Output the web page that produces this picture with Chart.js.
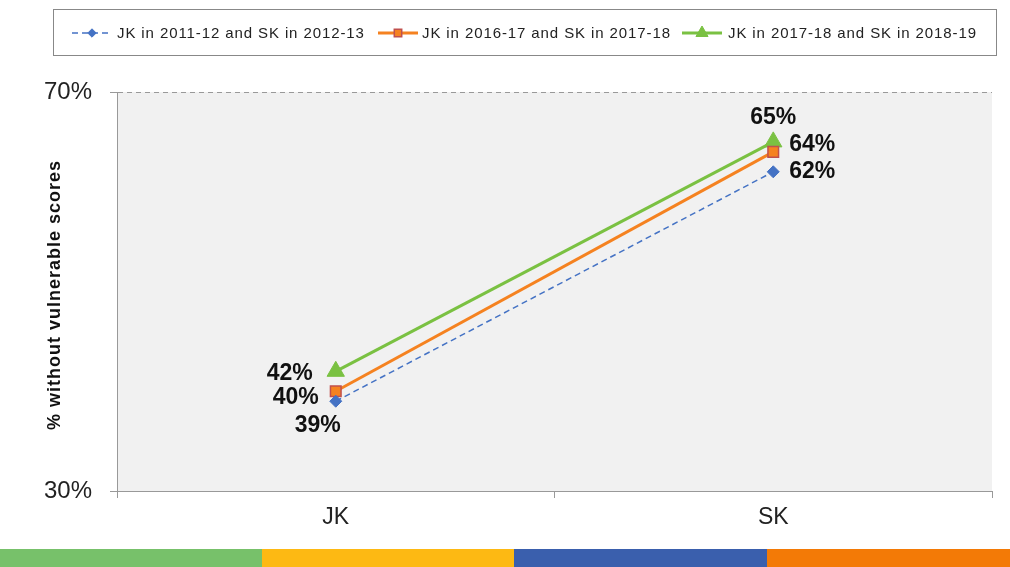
<!DOCTYPE html>
<html>
<head>
<meta charset="utf-8">
<script src="https://cdn.jsdelivr.net/npm/chart.js@4"></script>
<style>
  html, body { margin: 0; padding: 0; background: #fff; }
  #wrap { position: relative; width: 1010px; height: 567px; overflow: hidden; }
  #wrap canvas { position: absolute; left: 0; top: 0; }
  .strip { position: absolute; top: 549px; height: 18px; }
</style>
</head>
<body>
<div id="wrap">
  <canvas id="mainChart" width="1010" height="548"></canvas>
  <div class="strip" style="left:0;width:262px;background:#77c16a"></div>
  <div class="strip" style="left:262px;width:252px;background:#fdb913"></div>
  <div class="strip" style="left:514px;width:253px;background:#3a5fad"></div>
  <div class="strip" style="left:767px;width:243px;background:#f37a06"></div>
</div>
<script>
// data dari grafik
const categories = ['JK', 'SK'];
const seriesNames = [
  'JK in 2011-12 and SK in 2012-13',
  'JK in 2016-17 and SK in 2017-18',
  'JK in 2017-18 and SK in 2018-19'
];
const cohort1 = [39, 62];
const cohort2 = [40, 64];
const cohort3 = [42, 65];
const yTicks = [30, 70];
const yTitle = '% without vulnerable scores';

// posisi label data (offset terhadap titik)
const labelOffsets = [
  [[-18, 24], [39, 0]],
  [[-40, 6], [39, -7]],
  [[-46, 2], [0, -24]]
];

const plotBg = {
  id: 'plotBg',
  beforeDraw(chart) {
    const { ctx, chartArea: a } = chart;
    ctx.save();
    ctx.fillStyle = '#f1f1f1';
    ctx.fillRect(a.left, a.top, a.right - a.left, a.bottom - a.top);
    ctx.restore();
  }
};

const extras = {
  id: 'extras',
  afterDraw(chart) {
    const ctx = chart.ctx;
    ctx.save();
    // label data
    ctx.font = 'bold 23px "Liberation Sans", Arial, sans-serif';
    ctx.fillStyle = '#111';
    ctx.textAlign = 'center';
    ctx.textBaseline = 'middle';
    chart.data.datasets.forEach((ds, i) => {
      const meta = chart.getDatasetMeta(i);
      meta.data.forEach((pt, j) => {
        const off = labelOffsets[i][j];
        ctx.fillText(ds.data[j] + '%', pt.x + off[0], pt.y + off[1]);
      });
    });
    // judul sumbu y
    ctx.save();
    ctx.translate(55, 295);
    ctx.rotate(-Math.PI / 2);
    ctx.font = 'bold 18px "Liberation Sans", Arial, sans-serif';
    ctx.letterSpacing = '1px';
    ctx.fillStyle = '#111';
    ctx.fillText(yTitle, 0, 0);
    ctx.restore();

    // legenda
    ctx.strokeStyle = '#888';
    ctx.lineWidth = 1;
    ctx.strokeRect(53.5, 9.5, 943, 46);
    const markerX = [92, 398, 702];
    const textX = [117, 422, 728];
    ctx.font = '15px "Liberation Sans", Arial, sans-serif';
    ctx.letterSpacing = '0.9px';
    ctx.textAlign = 'left';
    chart.data.datasets.forEach((ds, i) => {
      const mx = markerX[i], my = 33;
      ctx.strokeStyle = ds.borderColor;
      ctx.lineWidth = ds.borderWidth;
      ctx.setLineDash(ds.borderDash || []);
      ctx.beginPath();
      ctx.moveTo(mx - 20, my);
      ctx.lineTo(mx + 20, my);
      ctx.stroke();
      ctx.setLineDash([]);
      ctx.fillStyle = ds.pointBackgroundColor;
      ctx.strokeStyle = ds.pointBorderColor;
      ctx.lineWidth = ds.pointBorderWidth || 1;
      Chart.helpers.drawPoint(ctx, {
        pointStyle: ds.pointStyle,
        radius: ds.pointRadius * 0.7,
        borderWidth: ds.pointBorderWidth || 1
      }, mx, my);
      ctx.fillStyle = '#222';
      ctx.fillText(seriesNames[i], textX[i], my + 1);
    });
    ctx.restore();
  }
};

new Chart(document.getElementById('mainChart'), {
  type: 'line',
  data: {
    labels: categories,
    datasets: [
      {
        label: seriesNames[0],
        data: cohort1,
        borderColor: '#4472c4',
        borderWidth: 1.5,
        borderDash: [6, 4],
        pointStyle: 'rectRot',
        pointRadius: 6,
        pointBackgroundColor: '#4472c4',
        pointBorderColor: '#4472c4',
        pointBorderWidth: 1
      },
      {
        label: seriesNames[1],
        data: cohort2,
        borderColor: '#f58220',
        borderWidth: 3,
        pointStyle: 'rect',
        pointRadius: 7.5,
        pointBackgroundColor: '#f58220',
        pointBorderColor: '#c0504d',
        pointBorderWidth: 1.5
      },
      {
        label: seriesNames[2],
        data: cohort3,
        borderColor: '#7ac142',
        borderWidth: 3,
        pointStyle: 'triangle',
        pointRadius: 10,
        pointBackgroundColor: '#7ac142',
        pointBorderColor: '#7ac142',
        pointBorderWidth: 1
      }
    ]
  },
  options: {
    responsive: false,
    animation: false,
    layout: { padding: { top: 92, right: 18, left: 0, bottom: 0 } },
    plugins: { legend: { display: false }, tooltip: { enabled: false } },
    scales: {
      x: {
        offset: true,
        grid: { offset: true, drawOnChartArea: false, drawTicks: true, tickLength: 7, color: '#999' },
        border: { display: true, color: '#999', width: 1 },
        ticks: { font: { size: 23, family: '"Liberation Sans", Arial, sans-serif' }, color: '#222', padding: 6 },
        afterFit(scale) { scale.height = 57; }
      },
      y: {
        min: 30,
        max: 70,
        afterBuildTicks(scale) { scale.ticks = yTicks.map(v => ({ value: v })); },
        grid: {
          color: c => (c.tick && c.tick.value === 70 ? '#999' : 'transparent'),
          tickColor: '#999',
          tickLength: 7,
          lineWidth: 1
        },
        border: { display: true, color: '#999', dash: [5, 4] },
        ticks: {
          font: { size: 24, family: '"Liberation Sans", Arial, sans-serif' },
          color: '#222',
          padding: 18,
          callback: v => v + '%'
        },
        afterFit(scale) { scale.width = 117; }
      }
    }
  },
  plugins: [plotBg, extras]
});
</script>
</body>
</html>
